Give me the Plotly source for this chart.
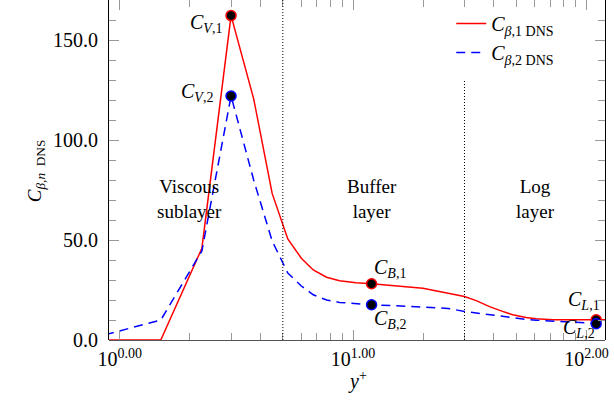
import math
import plotly.graph_objects as go

# Wall-normal positions (y+) and DNS coefficient profiles
y_plus = [0.75, 1.5, 2.25, 3.0, 3.75, 4.5, 5.25, 6.0, 6.75, 7.7, 8.75, 10.3, 12.0,
          15.3, 19.9, 23.4, 25.5, 30.0, 33.7, 38.4, 43.7, 48.3, 55.0, 60.9, 71.7,
          81.8, 110.0, 120.0]
c_beta_1 = [0.0, 0.0, 45.9, 162.2, 120.6, 73.3, 50.5, 40.9, 35.0, 31.4, 29.6, 28.6, 28.1,
            27.2, 25.9, 24.2, 23.4, 21.7, 19.7, 16.7, 14.3, 12.6, 11.3, 10.6, 10.1,
            10.1, 10.1, 10.1]
c_beta_2 = [0.7, 10.0, 44.5, 122.0, 80.0, 49.5, 33.5, 27.0, 22.6, 20.0, 18.8, 18.0, 17.6,
            17.1, 16.5, 16.0, 15.8, 14.3, 13.5, 12.6, 11.7, 11.0, 10.3, 9.9, 9.4,
            9.0, 8.1, 8.0]

# Characteristic points (viscous, buffer, log) picked on each profile
point_y_plus = [3.0, 12.0, 110.0]
point_names = ["V", "B", "L"]

# Layer boundaries and layer names
layer_bounds = [5.0, 30.0]
layer_names = ["Viscous<br>sublayer", "Buffer<br>layer", "Log<br>layer"]
layer_centres = [2.0, 12.0, 60.4]

x_tick_vals = [1, 10, 100]
x_tick_text = ["10<sup>0.00</sup>", "10<sup>1.00</sup>", "10<sup>2.00</sup>"]
y_tick_vals = [0, 50, 100, 150]
y_tick_text = ["0.0", "50.0", "100.0", "150.0"]

SERIF = "Liberation Serif"
RED = "#ff0000"
BLUE = "#0000ff"

fig = go.Figure()

fig.add_trace(go.Scatter(
    x=y_plus, y=c_beta_1, mode="lines", line=dict(color=RED, width=1.5),
    name="<i>C</i><sub><i>β</i>,1 DNS</sub>"))
fig.add_trace(go.Scatter(
    x=y_plus, y=c_beta_2, mode="lines", line=dict(color=BLUE, width=1.5, dash="9px,6px"),
    name="<i>C</i><sub><i>β</i>,2 DNS</sub>"))

# Markers on both profiles at the characteristic points
for series, colour in ((c_beta_1, RED), (c_beta_2, BLUE)):
    vals = [series[y_plus.index(p)] for p in point_y_plus]
    fig.add_trace(go.Scatter(
        x=point_y_plus, y=vals, mode="markers", showlegend=False,
        marker=dict(color="black", size=10, line=dict(color=colour, width=1.5))))

# Point labels (annotation x on a log axis is given as log10)
label_offsets = {
    ("V", 1): dict(xanchor="right", xshift=-7, yshift=-8),
    ("V", 2): dict(xanchor="right", xshift=-16, yshift=4),
    ("B", 1): dict(xanchor="left", xshift=0, yshift=15),
    ("B", 2): dict(xanchor="left", xshift=0, yshift=-15),
    ("L", 1): dict(xanchor="right", xshift=6, yshift=19),
    ("L", 2): dict(xanchor="right", xshift=1, yshift=-5),
}
for n, series in ((1, c_beta_1), (2, c_beta_2)):
    for p, name in zip(point_y_plus, point_names):
        fig.add_annotation(
            x=math.log10(p), y=series[y_plus.index(p)], xref="x", yref="y", showarrow=False,
            text=f"<i>C</i><sub><i>{name}</i>,{n}</sub>",
            font=dict(family=SERIF, size=20, color="black"),
            yanchor="middle", **label_offsets[(name, n)])

# Layer boundaries
fig.add_shape(type="line", xref="x", yref="y", x0=layer_bounds[0], x1=layer_bounds[0],
              y0=0, y1=170, line=dict(color="black", width=1, dash="1px,2px"))
fig.add_shape(type="line", xref="x", yref="y", x0=layer_bounds[1], x1=layer_bounds[1],
              y0=0, y1=130, line=dict(color="black", width=1, dash="1px,2px"))

for xc, txt in zip(layer_centres, layer_names):
    fig.add_annotation(x=math.log10(xc), y=70.4, xref="x", yref="y", text=txt,
                       showarrow=False, align="center",
                       font=dict(family=SERIF, size=19, color="black"))

# Axis titles
fig.add_annotation(xref="paper", yref="paper", x=-0.175, y=0.497, textangle=-90,
                   text="<i>C</i><sub><i>β,n</i>  DNS</sub>", showarrow=False,
                   font=dict(family=SERIF, size=19, color="black"))
fig.add_annotation(xref="paper", yref="paper", x=0.5, y=-0.162,
                   text="<i>y</i><sup>+</sup>", showarrow=False,
                   font=dict(family=SERIF, size=20, color="black"))

fig.update_layout(
    width=614, height=414,
    margin=dict(l=109, r=9, t=0, b=74),
    paper_bgcolor="white", plot_bgcolor="white",
    font=dict(family=SERIF, size=19, color="black"),
    legend=dict(x=0.69, y=0.988, xanchor="left", yanchor="top",
                bgcolor="rgba(0,0,0,0)", font=dict(family=SERIF, size=20)),
    xaxis=dict(type="log", range=[-0.0458, 2.0792], showline=False, mirror="ticks",
               showgrid=False, zeroline=False,
               tickmode="array", tickvals=x_tick_vals, ticktext=x_tick_text,
               ticks="inside", ticklen=10, tickcolor="#999", tickwidth=1,
               ticklabelstandoff=5,
               minor=dict(tickmode="array",
                          tickvals=[m * d for d in (1, 10) for m in range(2, 10)] + [200],
                          ticks="inside", ticklen=7, tickcolor="#999", showgrid=False),
               tickfont=dict(family=SERIF, size=20)),
    yaxis=dict(range=[0, 170], showline=True, linecolor="black", linewidth=1, mirror="ticks",
               showgrid=False, zeroline=True, zerolinecolor="#555", zerolinewidth=1,
               tickmode="array", tickvals=y_tick_vals, ticktext=y_tick_text,
               ticks="inside", ticklen=10, tickcolor="#999", tickwidth=1,
               ticklabelstandoff=6,
               minor=dict(dtick=10, ticks="inside", ticklen=7, tickcolor="#999", showgrid=False),
               tickfont=dict(family=SERIF, size=20)),
)

fig.write_html("out.html")
